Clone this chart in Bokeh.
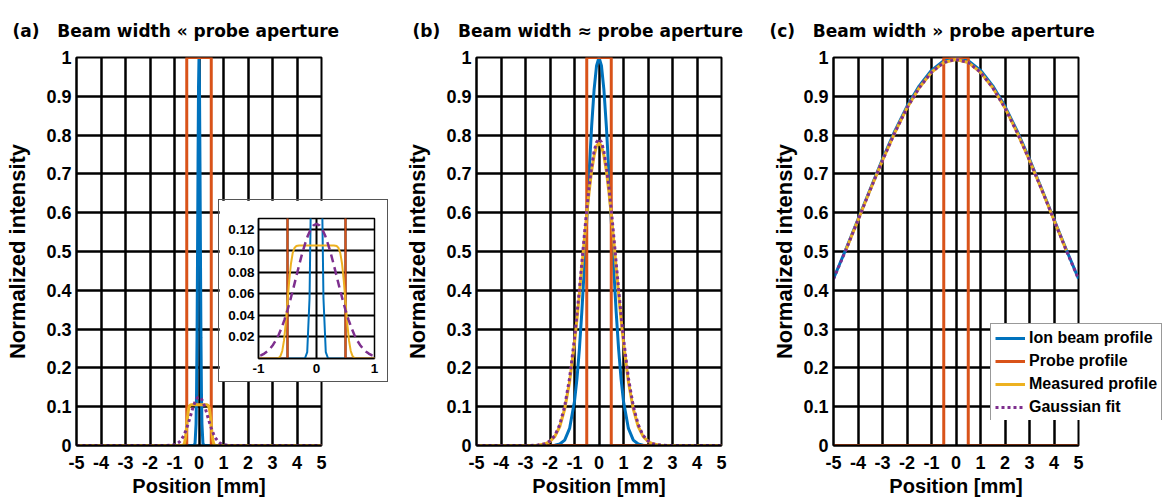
from bokeh.plotting import figure
from bokeh.layouts import row
from bokeh.models import (Range1d, FixedTicker, NumeralTickFormatter, Title,
                          Legend, LegendItem)
from bokeh.embed import file_html
from bokeh.resources import INLINE

# ---------------- data ----------------
x_ticks = [-5, -4, -3, -2, -1, 0, 1, 2, 3, 4, 5]
y_ticks = [0, 0.1, 0.2, 0.3, 0.4, 0.5, 0.6, 0.7, 0.8, 0.9, 1.0]
inset_x_ticks = [-1, 0, 1]
inset_x_grid = [-1, -0.5, 0, 0.5, 1]
inset_y_ticks = [0.02, 0.04, 0.06, 0.08, 0.10, 0.12]

panel_letters = ["(a)", "(b)", "(c)"]
panel_titles = ["Beam width « probe aperture",
                "Beam width ≈ probe aperture",
                "Beam width » probe aperture"]
series_names = ["Ion beam profile", "Probe profile", "Measured profile", "Gaussian fit"]
x_label = "Position [mm]"
y_label = "Normalized intensity"

# probe aperture (same in all panels)
probe_x = [-5, -0.5, -0.5, 0.5, 0.5, 5]
probe_y = [0, 0, 1, 1, 0, 0]

# (a) beam width << probe aperture
ion_a_x = [-5, -0.2, -0.16, -0.12, -0.1, -0.08, -0.06, -0.04, -0.02, 0,
           0.02, 0.04, 0.06, 0.08, 0.1, 0.12, 0.16, 0.2, 5]
ion_a_y = [0, 0, 0.006, 0.056, 0.135, 0.278, 0.487, 0.726, 0.923, 1.0,
           0.923, 0.726, 0.487, 0.278, 0.135, 0.056, 0.006, 0, 0]
meas_a_x = [-5, -0.68, -0.65, -0.62, -0.59, -0.56, -0.53, -0.5, -0.47, -0.44,
            -0.41, -0.38, -0.35, -0.3, 0.3, 0.35, 0.38, 0.41, 0.44, 0.47, 0.5,
            0.53, 0.56, 0.59, 0.62, 0.65, 0.68, 5]
meas_a_y = [0, 0, 0.0006, 0.0024, 0.007, 0.0168, 0.0326, 0.0525, 0.0725, 0.0882,
            0.098, 0.1026, 0.1044, 0.105, 0.105, 0.1044, 0.1026, 0.098, 0.0882,
            0.0725, 0.0525, 0.0326, 0.0168, 0.007, 0.0024, 0.0006, 0, 0]
fit_a_x = [-5, -1.5, -1.2, -1.0, -0.95, -0.9, -0.85, -0.8, -0.75, -0.7, -0.65,
           -0.6, -0.55, -0.5, -0.45, -0.4, -0.35, -0.3, -0.25, -0.2, -0.15, -0.1,
           -0.05, 0, 0.05, 0.1, 0.15, 0.2, 0.25, 0.3, 0.35, 0.4, 0.45, 0.5, 0.55,
           0.6, 0.65, 0.7, 0.75, 0.8, 0.85, 0.9, 0.95, 1.0, 1.2, 1.5, 5]
fit_a_y = [0, 0, 0.0004, 0.0021, 0.0031, 0.0046, 0.0065, 0.0092, 0.0126, 0.0169,
           0.0223, 0.0288, 0.0364, 0.045, 0.0547, 0.065, 0.0758, 0.0866, 0.0969,
           0.106, 0.114, 0.120, 0.1237, 0.125, 0.1237, 0.120, 0.114, 0.106, 0.0969,
           0.0866, 0.0758, 0.065, 0.0547, 0.045, 0.0364, 0.0288, 0.0223, 0.0169,
           0.0126, 0.0092, 0.0065, 0.0046, 0.0031, 0.0021, 0.0004, 0, 0]

# (b) beam width ~ probe aperture
ion_b_x = [-5, -2.0, -1.8, -1.6, -1.4, -1.2, -1.0, -0.9, -0.8, -0.7, -0.6, -0.5,
           -0.4, -0.3, -0.2, -0.1, 0, 0.1, 0.2, 0.3, 0.4, 0.5, 0.6, 0.7, 0.8, 0.9,
           1.0, 1.2, 1.4, 1.6, 1.8, 2.0, 5]
ion_b_y = [0, 0.0002, 0.0009, 0.0039, 0.014, 0.044, 0.114, 0.172, 0.249, 0.345,
           0.458, 0.581, 0.707, 0.823, 0.917, 0.979, 1.0, 0.979, 0.917, 0.823,
           0.707, 0.581, 0.458, 0.345, 0.249, 0.172, 0.114, 0.044, 0.014, 0.0039,
           0.0009, 0.0002, 0]
meas_b_x = [-5, -3.0, -2.8, -2.5, -2.2, -2.0, -1.8, -1.6, -1.4, -1.2, -1.0, -0.9,
            -0.8, -0.7, -0.6, -0.5, -0.4, -0.3, -0.2, -0.1, 0, 0.1, 0.2, 0.3, 0.4,
            0.5, 0.6, 0.7, 0.8, 0.9, 1.0, 1.2, 1.4, 1.6, 1.8, 2.0, 2.2, 2.5, 2.8,
            3.0, 5]
meas_b_y = [0, 0, 0.0002, 0.0009, 0.0042, 0.0103, 0.0235, 0.049, 0.094, 0.164,
            0.265, 0.325, 0.391, 0.459, 0.529, 0.595, 0.656, 0.708, 0.747, 0.772,
            0.78, 0.772, 0.747, 0.708, 0.656, 0.595, 0.529, 0.459, 0.391, 0.325,
            0.265, 0.164, 0.094, 0.049, 0.0235, 0.0103, 0.0042, 0.0009, 0.0002,
            0, 0]
fit_b_x = meas_b_x
fit_b_y = [0, 0, 0.0002, 0.0011, 0.0049, 0.0119, 0.026, 0.054, 0.101, 0.174,
           0.276, 0.337, 0.403, 0.472, 0.541, 0.608, 0.668, 0.719, 0.758, 0.782,
           0.79, 0.782, 0.758, 0.719, 0.668, 0.608, 0.541, 0.472, 0.403, 0.337,
           0.276, 0.174, 0.101, 0.054, 0.026, 0.0119, 0.0049, 0.0011, 0.0002,
           0, 0]

# (c) beam width >> probe aperture
ion_c_x = [-5, -4.5, -4, -3.5, -3, -2.5, -2, -1.5, -1, -0.5, 0,
           0.5, 1, 1.5, 2, 2.5, 3, 3.5, 4, 4.5, 5]
ion_c_y = [0.430, 0.505, 0.583, 0.661, 0.738, 0.810, 0.874, 0.927, 0.967, 0.992,
           1.0, 0.992, 0.967, 0.927, 0.874, 0.810, 0.738, 0.661, 0.583, 0.505, 0.430]
meas_c_x = [-4.5, -4, -3.5, -3, -2.5, -2, -1.5, -1, -0.5, 0,
            0.5, 1, 1.5, 2, 2.5, 3, 3.5, 4, 4.5]
meas_c_y = [0.503, 0.581, 0.659, 0.735, 0.806, 0.870, 0.922, 0.962, 0.987, 0.995,
            0.987, 0.962, 0.922, 0.870, 0.806, 0.735, 0.659, 0.581, 0.503]
fit_c_x = ion_c_x
fit_c_y = [0.429, 0.503, 0.581, 0.659, 0.735, 0.806, 0.870, 0.922, 0.962, 0.987,
           0.995, 0.987, 0.962, 0.922, 0.870, 0.806, 0.735, 0.659, 0.581, 0.503, 0.429]

# ---------------- styling ----------------
BLUE, ORANGE, YELLOW, PURPLE = "#0072BD", "#D95319", "#EDB120", "#7E2F8E"
FONT = "Liberation Sans"
TITLE_FONT = "DejaVu Sans"
COLORS = [BLUE, ORANGE, YELLOW, PURPLE]
DASHES = ["solid", "solid", "solid", "3 3"]


def style_axes(p, tick_size, label_size, xstand, ystand):
    for ax in (p.xaxis, p.yaxis):
        ax.major_label_text_font = FONT
        ax.major_label_text_font_style = "bold"
        ax.major_label_text_font_size = tick_size
        ax.major_label_text_color = "black"
        ax.axis_label_text_font = FONT
        ax.axis_label_text_font_style = "bold"
        ax.axis_label_text_font_size = label_size
        ax.axis_label_text_color = "black"
        ax.major_tick_in = 0
        ax.major_tick_out = 0
        ax.minor_tick_line_color = None
        ax.axis_line_color = "black"
        ax.axis_line_width = 2
    p.xaxis.major_label_standoff = xstand
    p.yaxis.major_label_standoff = ystand
    p.grid.grid_line_color = "black"
    p.grid.grid_line_alpha = 1.0
    p.outline_line_color = "black"
    p.outline_line_alpha = 1.0


def make_panel(i, width, bl, br, data, ylab_standoff):
    p = figure(width=width, height=502, x_range=Range1d(-5, 5), y_range=Range1d(0, 1),
               min_border_left=bl, min_border_right=br, min_border_top=57,
               min_border_bottom=57, output_backend="svg", toolbar_location=None,
               background_fill_color="white", border_fill_color="white")
    p.xaxis.ticker = FixedTicker(ticks=x_ticks)
    p.yaxis.ticker = FixedTicker(ticks=y_ticks)
    p.xgrid.ticker = FixedTicker(ticks=x_ticks)
    p.ygrid.ticker = FixedTicker(ticks=y_ticks)
    p.xaxis.formatter = NumeralTickFormatter(format="0")
    p.yaxis.formatter = NumeralTickFormatter(format="0.[0]")
    p.xaxis.axis_label = x_label
    p.yaxis.axis_label = y_label
    style_axes(p, "18px", "20px", 10, 5)
    p.yaxis.axis_label_text_font_size = "22px"
    p.grid.grid_line_width = 2.5
    p.outline_line_width = 2
    p.xaxis.axis_label_standoff = 3
    p.yaxis.axis_label_standoff = ylab_standoff

    for (xs, ys), c, d in zip(data, COLORS, DASHES):
        p.line(xs, ys, line_color=c, line_width=3, line_dash=d)

    p.add_layout(Title(text=panel_letters[i] + "\u00a0\u00a0\u00a0" + panel_titles[i],
                       align="left", offset=-64, standoff=34,
                       text_font=TITLE_FONT, text_font_style="bold",
                       text_font_size="17px", text_color="black"), "above")
    return p


data_a = [(ion_a_x, ion_a_y), (probe_x, probe_y), (meas_a_x, meas_a_y), (fit_a_x, fit_a_y)]
data_b = [(ion_b_x, ion_b_y), (probe_x, probe_y), (meas_b_x, meas_b_y), (fit_b_x, fit_b_y)]
data_c = [(ion_c_x, ion_c_y), (probe_x, probe_y), (meas_c_x, meas_c_y), (fit_c_x, fit_c_y)]

pa = make_panel(0, 400, 76, 79, data_a, 13)
pb = make_panel(1, 367, 76, 46, data_b, 13)
pc = make_panel(2, 401, 66, 90, data_c, 3)

# ---------------- inset of panel (a) ----------------
inset = figure(width=170, height=183, x_range=Range1d(-1, 1), y_range=Range1d(0, 0.13),
               min_border_left=39, min_border_right=15, min_border_top=18,
               min_border_bottom=25, output_backend="svg", toolbar_location=None,
               background_fill_color="white", border_fill_color="white",
               styles={"position": "absolute", "left": "218px", "top": "199px",
                       "border": "1px solid #555555", "z-index": "10"})
inset.xaxis.ticker = FixedTicker(ticks=inset_x_ticks)
inset.xgrid.ticker = FixedTicker(ticks=inset_x_grid)
inset.yaxis.ticker = FixedTicker(ticks=inset_y_ticks)
inset.ygrid.ticker = FixedTicker(ticks=inset_y_ticks)
inset.xaxis.formatter = NumeralTickFormatter(format="0")
inset.yaxis.formatter = NumeralTickFormatter(format="0.00")
style_axes(inset, "13.5px", "13px", 5, 4)
inset.grid.grid_line_width = 2
inset.outline_line_width = 1.5
inset.xaxis.axis_line_width = 1.5
inset.yaxis.axis_line_width = 1.5
for (xs, ys), c, d, w in zip(data_a, COLORS, ["solid", "solid", "solid", "8 5"],
                             [2, 2, 2, 2.5]):
    inset.line(xs, ys, line_color=c, line_width=w, line_dash=d)

# ---------------- legend of panel (c), laid over its lower right corner ----------------
# the legend's own plot shows a data window far away from the curves, so only the legend is seen
leg = figure(width=180, height=98, x_range=Range1d(100, 101), y_range=Range1d(100, 101),
             min_border=0, x_axis_location=None, y_axis_location=None,
             output_backend="svg", toolbar_location=None,
             background_fill_alpha=0, border_fill_alpha=0,
             styles={"position": "absolute", "left": "989px", "top": "322px",
                     "z-index": "11"})
leg.outline_line_color = None
leg.grid.visible = False
leg_renderers = [leg.line(xs, ys, line_color=c, line_width=3, line_dash=d)
                 for (xs, ys), c, d in zip(data_c, COLORS, DASHES)]
legend = Legend(items=[LegendItem(label=n, renderers=[r])
                       for n, r in zip(series_names, leg_renderers)],
                location="top_left", label_text_font=FONT,
                label_text_font_style="bold", label_text_font_size="16px",
                label_text_color="black",
                glyph_width=30, glyph_height=18, label_height=19, spacing=4,
                padding=4, margin=1, label_standoff=4,
                border_line_color="#333333", border_line_width=1.5,
                background_fill_color="white", background_fill_alpha=1.0)
leg.add_layout(legend)

layout = row(pa, pb, pc, spacing=0)
open("out.html", "w").write(file_html([layout, inset, leg], INLINE))
